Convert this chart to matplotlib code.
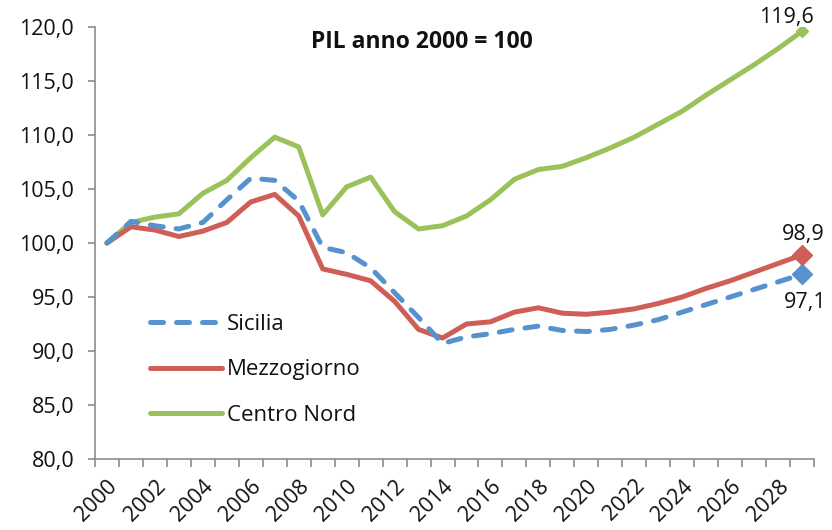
import matplotlib
matplotlib.use("Agg")
import matplotlib.pyplot as plt
import numpy as np

years = list(range(2000, 2030))
sicilia = [100.0, 102.0, 101.6, 101.3, 101.9, 104.0, 106.0, 105.8, 103.9, 99.6,
           99.1, 97.7, 95.4, 93.1, 90.7, 91.3, 91.6, 92.0, 92.3, 91.9,
           91.8, 92.0, 92.4, 92.9, 93.6, 94.3, 95.0, 95.7, 96.4, 97.1]
mezzogiorno = [100.0, 101.5, 101.2, 100.6, 101.1, 101.9, 103.8, 104.5, 102.5, 97.6,
               97.1, 96.5, 94.6, 92.0, 91.2, 92.5, 92.7, 93.6, 94.0, 93.5,
               93.4, 93.6, 93.9, 94.4, 95.0, 95.8, 96.5, 97.3, 98.1, 98.9]
centro_nord = [100.0, 101.9, 102.4, 102.7, 104.6, 105.8, 107.9, 109.8, 108.9, 102.6,
               105.2, 106.1, 102.9, 101.3, 101.6, 102.5, 104.0, 105.9, 106.8, 107.1,
               107.9, 108.8, 109.8, 111.0, 112.2, 113.7, 115.1, 116.5, 118.0, 119.6]
series_names = ["Sicilia", "Mezzogiorno", "Centro Nord"]
title_text = "PIL anno 2000 = 100"
yticks = [80, 85, 90, 95, 100, 105, 110, 115, 120]

FONT = ["Open Sans", "DejaVu Sans"]
plt.rcParams['font.family'] = FONT

c_blue = "#5592CE"
c_red = "#CF5E57"
c_green = "#9BC25A"
txt = '#111111'

fig = plt.figure(figsize=(8.32, 5.30), dpi=100)
ax = fig.add_axes([95/832, 1-459/530, (814-95)/832, (459-27)/530])

x = np.arange(len(years))
lw = 3.6
ax.plot(x, centro_nord, color=c_green, lw=lw, solid_capstyle='round', solid_joinstyle='round',
        label=series_names[2], zorder=3)
ax.plot(x, mezzogiorno, color=c_red, lw=lw, solid_capstyle='round', solid_joinstyle='round',
        label=series_names[1], zorder=4)
ax.plot(x, sicilia, color=c_blue, lw=lw, linestyle=(0, (2.6, 2.6)), dash_capstyle='round',
        dash_joinstyle='round', label=series_names[0], zorder=5)

# end markers
ax.plot(x[-1], sicilia[-1], marker='D', ms=10, color=c_blue, zorder=6)
ax.plot(x[-1], mezzogiorno[-1], marker='D', ms=10, color=c_red, zorder=6)
ax.plot(x[-1], centro_nord[-1], marker='D', ms=6, color=c_green, zorder=6)

def fmt(v):
    return f"{v:.1f}".replace(".", ",")

FS = 15.5
ax.annotate(fmt(centro_nord[-1]), (x[-1], centro_nord[-1]), xytext=(-11, 10),
            textcoords='offset points', ha='center', va='center', fontsize=FS, color=txt)
ax.annotate(fmt(mezzogiorno[-1]), (x[-1], mezzogiorno[-1]), xytext=(1, 15),
            textcoords='offset points', ha='center', va='center', fontsize=FS, color=txt)
ax.annotate(fmt(sicilia[-1]), (x[-1], sicilia[-1]), xytext=(2, -20),
            textcoords='offset points', ha='center', va='center', fontsize=FS, color=txt)

ax.set_xlim(-0.5, len(years) - 0.5)
ax.set_ylim(80, 120)
ax.set_yticks(yticks)
ax.set_yticklabels([fmt(v) for v in yticks], fontsize=FS, color=txt)
ax.set_xticks(x[::2])
ax.set_xticklabels([str(y) for y in years[::2]], rotation=45, ha='right',
                   rotation_mode='anchor', fontsize=FS, color=txt)
ax.set_xticks(np.arange(-0.5, len(years), 1.0), minor=True)
ax.tick_params(axis='x', which='major', length=0, pad=12)
ax.tick_params(axis='x', which='minor', length=6, color='#8c8c8c', width=1.2)
ax.tick_params(axis='y', length=5, color='#8c8c8c', width=1.2, pad=10)
for s in ['top', 'right']:
    ax.spines[s].set_visible(False)
for s in ['left', 'bottom']:
    ax.spines[s].set_color('#8c8c8c')
    ax.spines[s].set_linewidth(1.2)

fig.text(422/832, 1-42/530, title_text, ha='center', va='center', fontsize=16.5,
         fontweight='bold', color=txt)

handles, labels = ax.get_legend_handles_labels()
order = [2, 1, 0]
leg = ax.legend([handles[i] for i in order], [labels[i] for i in order],
                loc='upper left', bbox_to_anchor=(150/832, 1-314/530),
                bbox_transform=fig.transFigure, frameon=False, borderpad=0,
                borderaxespad=0, handlelength=3.25, handletextpad=0.22,
                labelspacing=1.1, fontsize=16)
for t in leg.get_texts():
    t.set_color(txt)

fig.savefig("out.png", dpi=100)
